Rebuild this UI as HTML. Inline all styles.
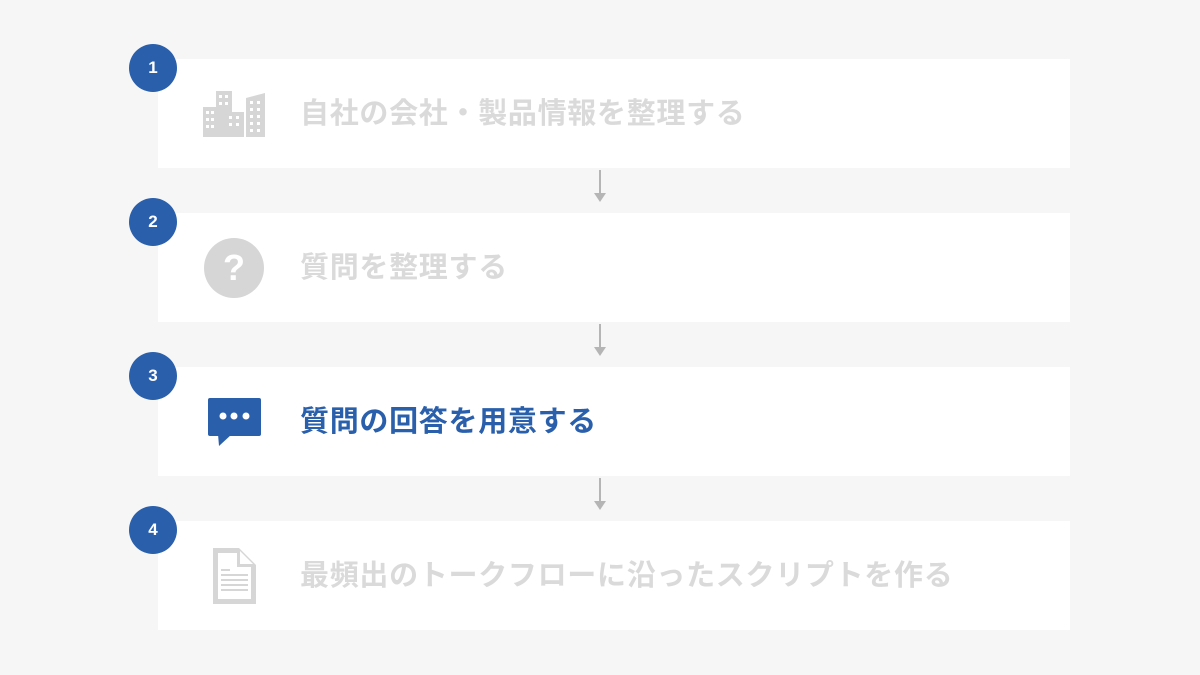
<!DOCTYPE html>
<html><head><meta charset="utf-8"><style>
body{margin:0;width:1200px;height:675px;background:#f6f6f6;position:relative;overflow:hidden;font-family:"Liberation Sans","Noto Sans CJK JP",sans-serif}
.box{position:absolute;left:158px;width:912px;height:109px;background:#fff}
.num{position:absolute;width:48px;height:48px;border-radius:50%;background:#2a5fab;color:#fff;font-weight:bold;font-size:17px;text-align:center;line-height:48px}
.t{position:absolute;left:300px;font-size:29px;font-weight:bold;color:#dadada;line-height:40px;letter-spacing:0.7px}
.ic{position:absolute}
</style></head><body>
<div class="box" style="top:59px"></div>
<div class="box" style="top:213px"></div>
<div class="box" style="top:367px"></div>
<div class="box" style="top:521px"></div>
<div class="num" style="left:129px;top:44px">1</div>
<div class="num" style="left:129px;top:198px">2</div>
<div class="num" style="left:129px;top:352px">3</div>
<div class="num" style="left:129px;top:506px">4</div>
<div class="t" style="top:94px">自社の会社・製品情報を整理する</div>
<div class="t" style="top:248px">質問を整理する</div>
<div class="t" style="top:402px;color:#2a5fab">質問の回答を用意する</div>
<div class="t" style="top:556px">最頻出のトークフローに沿ったスクリプトを作る</div>
<svg class="ic" style="left:0;top:0" width="1200" height="675">
<g stroke="#b5b5b5" stroke-width="2" fill="#b5b5b5">
<line x1="600" y1="170" x2="600" y2="196"/><path d="M594 193 L606 193 L600 202Z" stroke="none"/>
<line x1="600" y1="324" x2="600" y2="350"/><path d="M594 347 L606 347 L600 356Z" stroke="none"/>
<line x1="600" y1="478" x2="600" y2="504"/><path d="M594 501 L606 501 L600 510Z" stroke="none"/>
</g>
<g fill="#d6d6d6">
<rect x="203" y="107" width="22" height="30"/>
<rect x="216" y="91" width="16" height="46"/>
<rect x="226" y="112" width="18" height="25"/>
<path d="M246 98 L265 93 L265 137 L246 137Z"/>
</g>
<g fill="#fff">
<rect x="206" y="111" width="3" height="3"/><rect x="211" y="111" width="3" height="3"/>
<rect x="206" y="118" width="3" height="3"/><rect x="211" y="118" width="3" height="3"/>
<rect x="206" y="125" width="3" height="3"/><rect x="211" y="125" width="3" height="3"/>
<rect x="219" y="95" width="3" height="3"/><rect x="225" y="95" width="3" height="3"/>
<rect x="219" y="102" width="3" height="3"/><rect x="225" y="102" width="3" height="3"/>
<rect x="229" y="116" width="3" height="3"/><rect x="236" y="116" width="3" height="3"/>
<rect x="229" y="123" width="3" height="3"/><rect x="236" y="123" width="3" height="3"/>
<rect x="250" y="101" width="3" height="3"/><rect x="257" y="101" width="3" height="3"/>
<rect x="250" y="108" width="3" height="3"/><rect x="257" y="108" width="3" height="3"/>
<rect x="250" y="115" width="3" height="3"/><rect x="257" y="115" width="3" height="3"/>
<rect x="250" y="122" width="3" height="3"/><rect x="257" y="122" width="3" height="3"/>
<rect x="250" y="129" width="3" height="3"/><rect x="257" y="129" width="3" height="3"/>
</g>
<circle cx="234" cy="268" r="30" fill="#d6d6d6"/>
<text x="234" y="280" text-anchor="middle" font-family="Liberation Sans" font-weight="bold" font-size="36" fill="#fff">?</text>
<rect x="208" y="398" width="53" height="38" rx="2" fill="#2a5fab"/>
<path d="M218 434 L219 446 L232 434Z" fill="#2a5fab"/>
<circle cx="223" cy="416" r="3.5" fill="#fff"/><circle cx="234" cy="416" r="3.5" fill="#fff"/><circle cx="246" cy="416" r="3.5" fill="#fff"/>
<path d="M213 548 L239 548 L256 565 L256 604 L213 604Z" fill="#d6d6d6"/>
<path d="M218 553 L237 553 L237 567 L251 567 L251 599 L218 599Z" fill="#fff"/>
<path d="M240 551 L253 564 L240 564Z" fill="#fff"/>
<g fill="#d6d6d6"><rect x="221" y="569" width="9" height="2"/><rect x="221" y="574" width="27" height="2"/><rect x="221" y="579" width="27" height="2"/><rect x="221" y="584" width="27" height="2"/><rect x="221" y="589" width="27" height="2"/></g>
</svg>
</body></html>
